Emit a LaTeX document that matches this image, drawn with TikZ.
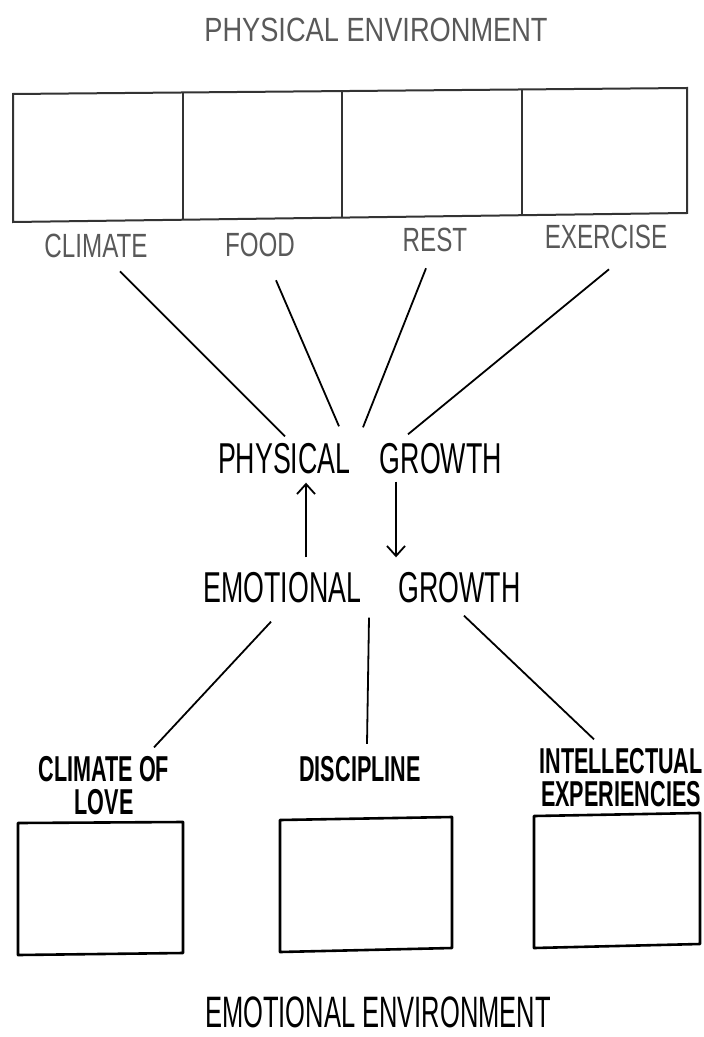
\documentclass[tikz,border=0pt]{standalone}
\usepackage{fontspec}
\setmainfont{Liberation Sans}
\usetikzlibrary{calc,arrows.meta}

\begin{document}
\begin{tikzpicture}[
  x=0.5pt, y=-0.5pt,
  faded/.style={text=black!65},
  heading/.style={font=\fontsize{16.8}{18}\selectfont, faded, xscale=0.81, inner sep=2pt},
  factor/.style={font=\fontsize{16.8}{18}\selectfont, faded, xscale=0.72, inner sep=2pt},
  growth/.style={font=\fontsize{21.6}{24}\selectfont, xscale=0.62, inner sep=2pt},
  need/.style={font=\bfseries\fontsize{18}{16.5}\selectfont, xscale=0.6, align=center, inner sep=2pt},
  envname/.style={font=\fontsize{22}{24}\selectfont, xscale=0.58, inner sep=2pt},
  cell/.style={draw=black!80, line width=1pt},
  pen/.style={line width=0.9pt},
  arr/.style={pen, -{Straight Barb[length=5pt, width=9pt]}},
  frame/.style={line width=1.3pt, line join=round},
]
\useasboundingbox (0,0) rectangle (703,1037);

% ---- physical environment strip ---------------------------------
\node[heading] (physenv) at (376,30) {PHYSICAL ENVIRONMENT};
\coordinate (tl) at (13,94);  \coordinate (tr) at (687,88);
\coordinate (br) at (687,213); \coordinate (bl) at (13,222);
\draw[cell] (tl) -- (tr) -- (br) -- (bl) -- cycle;
\foreach \t in {0.252,0.488,0.755}
  \draw[cell] ($(tl)!\t!(tr)$) -- ($(bl)!\t!(br)$);

\node[factor] (climate)  at (96,246)  {CLIMATE};
\node[factor] (food)     at (260,245) {FOOD};
\node[factor] (rest)     at (435,240) {REST};
\node[factor] (exercise) at (606,237) {EXERCISE};

% ---- growth -----------------------------------------------------
\node[growth] (pgrowth) at (360,459) {PHYSICAL\hspace{1.1em}GROWTH};
\node[growth] (egrowth) at (362,588) {EMOTIONAL\hspace{1.4em}GROWTH};

\draw[pen] ($(climate.south)+(24,9)$)   -- ($(pgrowth.north)+(-75,-3)$);
\draw[pen] ($(food.south)+(16,19)$)     -- ($(pgrowth.north)+(-21,-13)$);
\draw[pen] ($(rest.south)+(-9,12)$)     -- ($(pgrowth.north)+(3,-12)$);
\draw[pen] ($(exercise.south)+(3,16)$)  -- ($(pgrowth.north)+(48,-5)$);

\draw[arr] ($(egrowth.north)+(-56,-11)$) -- ($(pgrowth.south)+(-54,4)$);
\draw[arr] ($(pgrowth.south)+(36,3)$)    -- ($(egrowth.north)+(34,-11)$);

% ---- emotional environment --------------------------------------
\node[need] (love)       at (104,786) {CLIMATE OF\\LOVE};
\node[need] (discipline) at (360,769) {DISCIPLINE};
\node[need] (intel)      at (621,778) {INTELLECTUAL\\EXPERIENCIES};

\draw[pen] ($(egrowth.south)+(-91,14)$) -- ($(love.north)+(50,-5)$);
\draw[pen] ($(egrowth.south)+(7,10)$)   -- ($(discipline.north)+(7,-8)$);
\draw[pen] ($(egrowth.south)+(102,8)$)  -- ($(intel.north)+(-27,-5)$);

\draw[frame] (18,823) -- (183,822) -- (183,953) -- (18,955) -- cycle;
\draw[frame] (280,820) -- (452,817) -- (452,948) -- (280,952) -- cycle;
\draw[frame] (534,816) -- (700,813) -- (700,944) -- (534,948) -- cycle;

\node[envname] (emoenv) at (378,1012) {EMOTIONAL ENVIRONMENT};

\end{tikzpicture}
\end{document}
